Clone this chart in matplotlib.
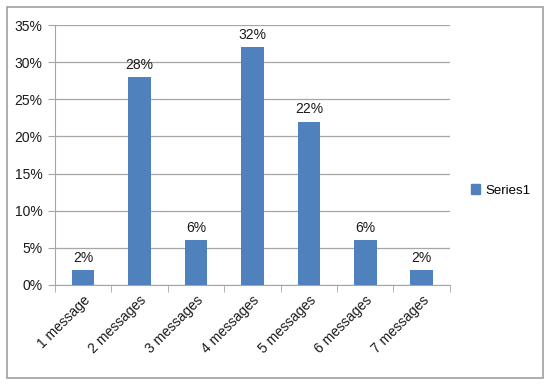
import matplotlib
matplotlib.use('Agg')
import matplotlib.pyplot as plt
from matplotlib.patches import Rectangle, Patch
from matplotlib.ticker import FuncFormatter, FixedLocator

categories = ['1 message', '2 messages', '3 messages', '4 messages',
              '5 messages', '6 messages', '7 messages']
values = [2, 28, 6, 32, 22, 6, 2]
series_name = 'Series1'

BAR = '#4F81BD'
GRID = '#A6A6A6'
TXT = '#1a1a1a'

plt.rcParams['font.family'] = ['Liberation Sans', 'DejaVu Sans']

fig = plt.figure(figsize=(5.5, 3.85), dpi=100)
ax = fig.add_axes([0.1, 0.26, 0.718, 0.675])

x = list(range(len(categories)))
ax.bar(x, values, width=0.4, color=BAR, zorder=3)
for xi, v in zip(x, values):
    ax.text(xi, v + 0.7, f'{v}%', ha='center', va='bottom', fontsize=10, color=TXT)

ax.set_xlim(-0.5, len(categories) - 0.5)
ax.set_ylim(0, 35)
ax.set_yticks(range(0, 36, 5))
ax.yaxis.set_major_formatter(FuncFormatter(lambda v, p: f'{int(v)}%'))
ax.grid(axis='y', color=GRID, lw=0.9, zorder=0)

ax.set_xticks(x)
ax.set_xticklabels(categories, rotation=45, ha='right', rotation_mode='anchor',
                   fontsize=10, color=TXT)
ax.tick_params(axis='x', length=0, pad=6)
ax.xaxis.set_minor_locator(FixedLocator([i - 0.5 for i in range(len(categories) + 1)]))
ax.tick_params(axis='x', which='minor', length=5, color=GRID)
ax.tick_params(axis='y', length=5, color=GRID, labelsize=10, labelcolor=TXT, pad=4)

for s in ['top', 'right']:
    ax.spines[s].set_visible(False)
for s in ['left', 'bottom']:
    ax.spines[s].set_color(GRID)

fig.legend(handles=[Patch(color=BAR, label=series_name)], loc='center left',
           bbox_to_anchor=(0.835, 0.505), frameon=False, fontsize=9.5,
           handlelength=0.7, handleheight=0.7, handletextpad=0.4)

fig.patches.append(Rectangle((0.012, 0.018), 0.975, 0.965, transform=fig.transFigure,
                             fill=False, edgecolor='#A0A0A0', lw=1.2))

fig.savefig('out.png', dpi=100)
